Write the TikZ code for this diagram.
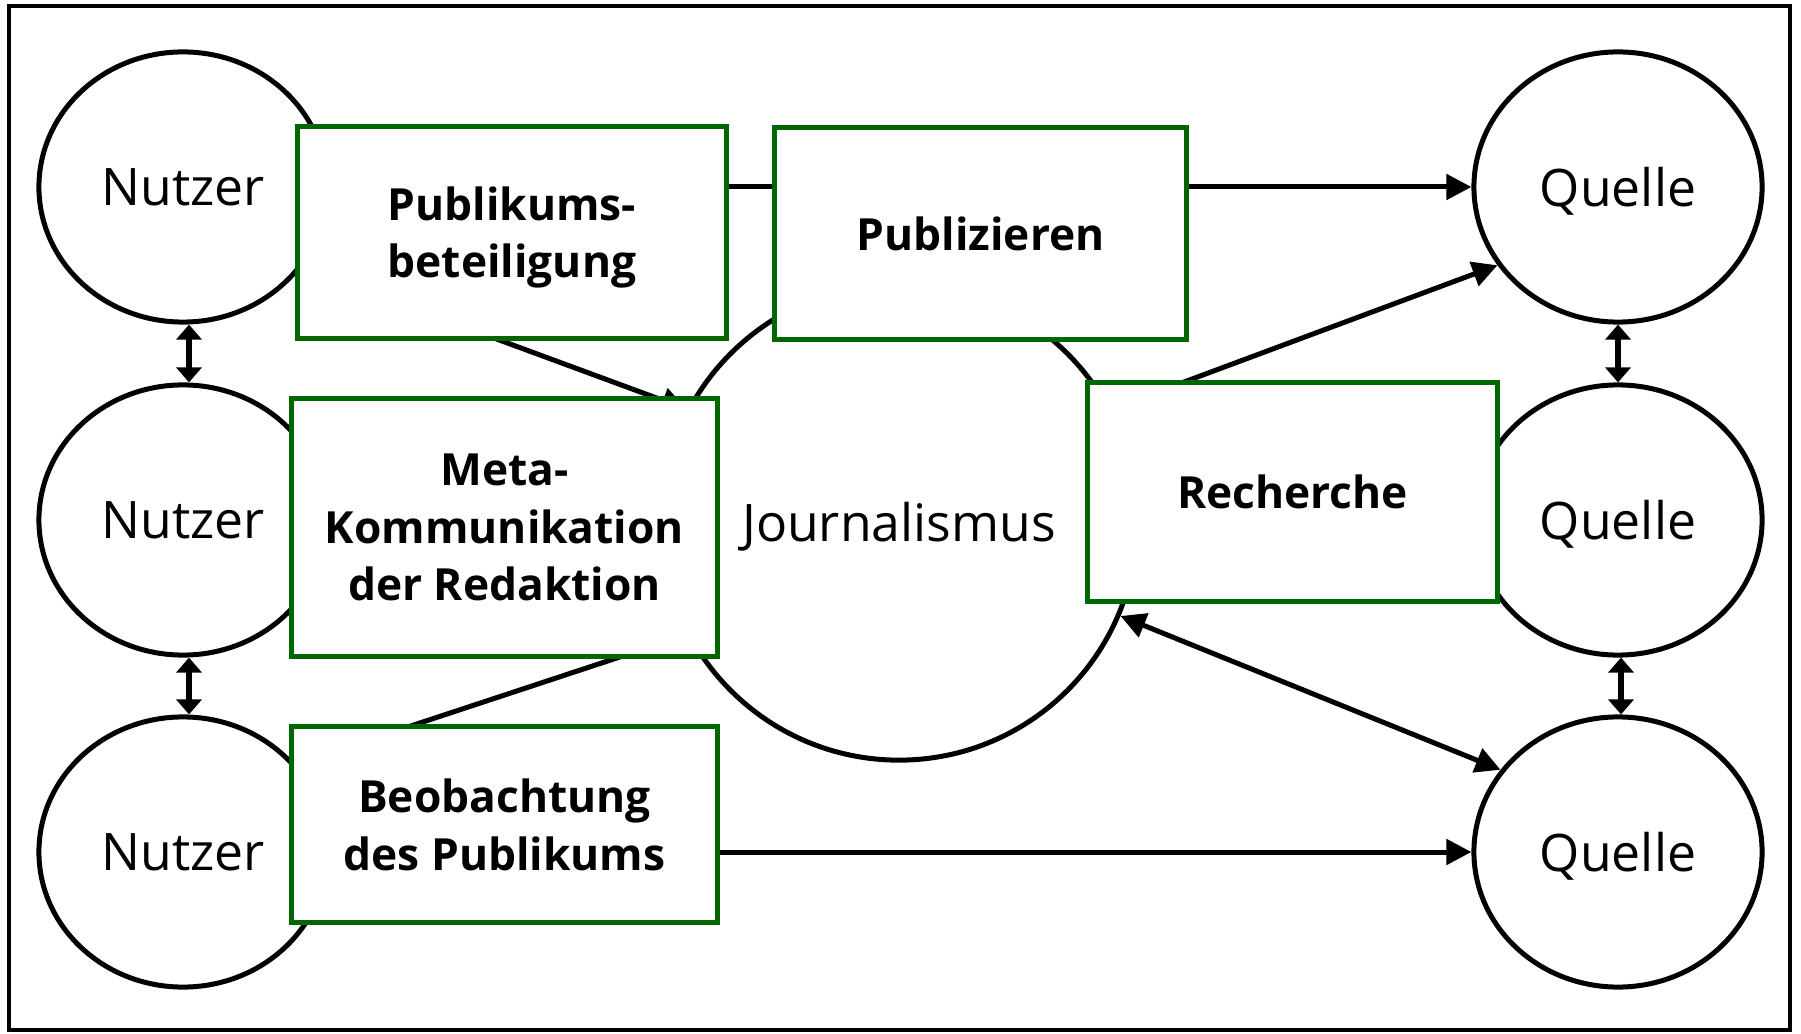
\documentclass[tikz,border=0pt]{standalone}
\usepackage{fontspec}
\setmainfont{Open Sans}
\usepackage{tikz}
\usetikzlibrary{arrows.meta, shapes.geometric}

\definecolor{rahmengruen}{RGB}{0,102,0}

\begin{document}
\begin{tikzpicture}[x=0.01cm, y=-0.01cm, >={Triangle[length=0.25cm, width=0.25cm]},
    akteur/.style={ellipse, draw, line width=0.05cm, fill=white, minimum width=2.88cm, minimum height=2.70cm, inner sep=0pt, text depth=0pt, font=\fontsize{14.7}{17}\selectfont},
    aufgabe/.style={rectangle, draw=rahmengruen, line width=0.05cm, fill=white, inner sep=0pt, text depth=0pt, align=center, font=\fontsize{12.6}{16.3}\selectfont\bfseries},
    pfeil/.style={line width=0.05cm, ->},
    linie/.style={line width=0.05cm},
    wechsel/.style={line width=0.06cm, {Triangle[length=0.15cm, width=0.25cm]}-{Triangle[length=0.15cm, width=0.25cm]}}]
    \useasboundingbox (0,0) rectangle (1801,1034);
    % Rahmen
    \draw[line width=0.045cm] (9,6) rectangle (1790,1030);

    % Nutzer und Quellen
    \node[akteur] (n1) at (183,187) {Nutzer};
    \node[akteur] (n2) at (183,520) {Nutzer};
    \node[akteur] (n3) at (183,852) {Nutzer};
    \node[akteur] (q1) at (1618,187) {Quelle};
    \node[akteur] (q2) at (1618,520) {Quelle};
    \node[akteur] (q3) at (1618,852) {Quelle};

    % Journalismus
    \node[circle, draw, line width=0.05cm, fill=white, minimum size=4.76cm, inner sep=0pt, text depth=0pt, font=\fontsize{14.7}{17}\selectfont] (jour) at (899,522) {Journalismus};

    % Verbindungen
    \draw[wechsel] ([xshift=0.06cm]n1.south) -- ([xshift=0.06cm]n2.north);
    \draw[wechsel] ([xshift=0.06cm]n2.south) -- ([xshift=0.06cm]n3.north);
    \draw[wechsel] (q1.south) -- (q2.north);
    \draw[wechsel] ([xshift=0.03cm]q2.south) -- ([xshift=0.03cm]q3.north);
    \draw[pfeil] (n1.east) -- (q1.west);
    \draw[pfeil] (n3.east) -- (q3.west);
    \draw[pfeil] (n1.-34) -- (jour.152);
    \draw[linie] (jour.208) -- (n3.38);
    \draw[pfeil] (jour.28) -- (q1.213);
    \draw[pfeil, <->] (jour.-23) -- (q3.145);

    % Aufgaben
    \node[aufgabe, minimum width=4.28cm, minimum height=2.11cm] (beteiligung) at (512,232.5) {Publikums-\\beteiligung};
    \node[aufgabe, minimum width=4.115cm, minimum height=2.11cm] (publizieren) at (980.7,233.5) {Publizieren};
    \node[aufgabe, minimum width=4.25cm, minimum height=2.57cm] (meta) at (504.5,527.5) {Meta-\\Kommunikation\\der Redaktion};
    \node[aufgabe, minimum width=4.25cm, minimum height=1.95cm] (beobachtung) at (504.5,824.5) {Beobachtung\\des Publikums};
    \node[aufgabe, minimum width=4.09cm, minimum height=2.18cm] (recherche) at (1292.5,492) {Recherche};
\end{tikzpicture}
\end{document}
